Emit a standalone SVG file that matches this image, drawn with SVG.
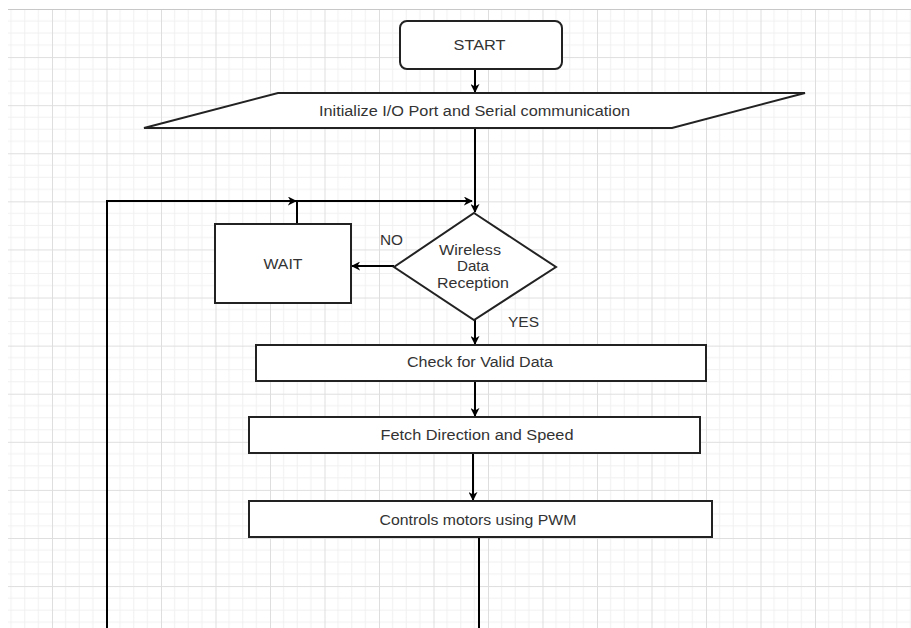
<svg xmlns="http://www.w3.org/2000/svg" width="911" height="628" viewBox="0 0 911 628">
  <style>
    .shape { fill: #ffffff; stroke: #222222; stroke-width: 2; }
    .edge { fill: none; stroke: #000000; stroke-width: 2; }
    .lbl { font-family: "Liberation Sans", Arial, sans-serif; font-size: 14px; fill: #333333; }
    .c { text-anchor: middle; }
  </style>
  <defs>
    <pattern id="grid" patternUnits="userSpaceOnUse" x="52" y="9" width="54.5" height="48.09">
      <g stroke="#f0f0f0" stroke-width="1">
        <line x1="13.62" y1="0" x2="13.62" y2="48.09"/>
        <line x1="27.25" y1="0" x2="27.25" y2="48.09"/>
        <line x1="40.87" y1="0" x2="40.87" y2="48.09"/>
        <line x1="0" y1="12.02" x2="54.5" y2="12.02"/>
        <line x1="0" y1="24.05" x2="54.5" y2="24.05"/>
        <line x1="0" y1="36.07" x2="54.5" y2="36.07"/>
      </g>
      <g stroke="#dedede" stroke-width="1">
        <line x1="0.5" y1="0" x2="0.5" y2="48.09"/>
        <line x1="0" y1="0.5" x2="54.5" y2="0.5"/>
      </g>
    </pattern>
    <marker id="arrow" viewBox="0 0 10 10" refX="9" refY="5" markerWidth="4.5" markerHeight="4.5" orient="auto" markerUnits="strokeWidth">
      <path d="M0,0 L10,5 L0,10 L3,5 Z" fill="#000000"/>
    </marker>
  </defs>

  <rect x="0" y="0" width="911" height="628" fill="#ffffff"/>
  <rect x="8" y="9" width="903" height="619" fill="url(#grid)"/>
  <line x1="8" y1="9.5" x2="911" y2="9.5" stroke="#c8c8c8" stroke-width="1"/>

  <g id="connectors">
    <path class="edge" d="M475,69 V92" marker-end="url(#arrow)"/>
    <path class="edge" d="M475,128 V212" marker-end="url(#arrow)"/>
    <path class="edge" d="M394,266 H352" marker-end="url(#arrow)"/>
    <path class="edge" d="M297,224 V201 H472" marker-end="url(#arrow)"/>
    <path class="edge" d="M479,537 V640 H107 V201 H296" marker-end="url(#arrow)"/>
    <path class="edge" d="M475,320 V344" marker-end="url(#arrow)"/>
    <path class="edge" d="M475,381 V416" marker-end="url(#arrow)"/>
    <path class="edge" d="M473,453 V500" marker-end="url(#arrow)"/>
  </g>

  <g id="start">
    <rect class="shape" x="400" y="21" width="162" height="48" rx="7" ry="7"/>
    <text class="lbl c" x="479.5" y="49.5" textLength="52" lengthAdjust="spacingAndGlyphs">START</text>
  </g>

  <g id="init">
    <polygon class="shape" points="278,93 805,93 672,128 144,128"/>
    <text class="lbl c" x="474.5" y="115.5" textLength="311" lengthAdjust="spacingAndGlyphs">Initialize I/O Port and Serial communication</text>
  </g>

  <g id="decision">
    <polygon class="shape" points="474,213 556,267 474,320 394,267"/>
    <text class="lbl c" x="470" y="255" textLength="62" lengthAdjust="spacingAndGlyphs">Wireless</text>
    <text class="lbl c" x="473" y="271" textLength="32" lengthAdjust="spacingAndGlyphs">Data</text>
    <text class="lbl c" x="473" y="288" textLength="72" lengthAdjust="spacingAndGlyphs">Reception</text>
  </g>

  <g id="wait">
    <rect class="shape" x="215" y="224" width="136" height="79"/>
    <text class="lbl c" x="283" y="269" textLength="39" lengthAdjust="spacingAndGlyphs">WAIT</text>
  </g>

  <g id="label-no">
    <text class="lbl" x="380" y="245" textLength="23" lengthAdjust="spacingAndGlyphs">NO</text>
  </g>
  <g id="label-yes">
    <text class="lbl" x="508" y="327" textLength="31" lengthAdjust="spacingAndGlyphs">YES</text>
  </g>

  <g id="check">
    <rect class="shape" x="256" y="345" width="450" height="36"/>
    <text class="lbl c" x="480" y="367" textLength="146" lengthAdjust="spacingAndGlyphs">Check for Valid Data</text>
  </g>

  <g id="fetch">
    <rect class="shape" x="249" y="417" width="451" height="36"/>
    <text class="lbl c" x="477" y="439.5" textLength="193" lengthAdjust="spacingAndGlyphs">Fetch Direction and Speed</text>
  </g>

  <g id="pwm">
    <rect class="shape" x="249" y="501" width="463" height="36"/>
    <text class="lbl c" x="478" y="524.5" textLength="197" lengthAdjust="spacingAndGlyphs">Controls motors using PWM</text>
  </g>
</svg>
